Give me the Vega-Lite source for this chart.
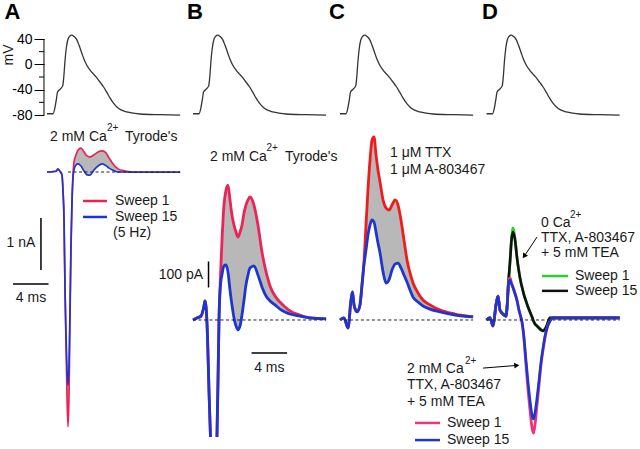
{
"$schema":"https://vega.github.io/schema/vega-lite/v6.json",
"width":640,"height":449,
"autosize":{"type":"fit","contains":"padding"},
"padding":0,
"background":"white",
"config":{"view":{"stroke":null},"text":{"font":"Liberation Sans","fontSize":14,"color":"#1a1a1a"}},
"datasets":{
"one":[{"k":1}],
"minor":[{"v":-60},{"v":-20},{"v":20}],
"ap":[
{"t":0,"v":-78},{"t":0.68,"v":-78},{"t":0.9,"v":-68},{"t":1.07,"v":-54},{"t":1.18,"v":-44},{"t":1.46,"v":-39.5},{"t":1.77,"v":-34},{"t":1.89,"v":-20},{"t":2.03,"v":6},{"t":2.17,"v":25},{"t":2.33,"v":38},{"t":2.54,"v":44},{"t":2.78,"v":46},{"t":3.04,"v":44},{"t":3.35,"v":39},{"t":3.61,"v":30},{"t":3.91,"v":18},{"t":4.17,"v":8},{"t":4.47,"v":-1},{"t":4.85,"v":-9},{"t":5.22,"v":-15},{"t":5.6,"v":-21},{"t":5.97,"v":-28},{"t":6.34,"v":-35},{"t":6.73,"v":-44},{"t":7.1,"v":-53},{"t":7.47,"v":-61},{"t":7.85,"v":-67},{"t":8.34,"v":-72},{"t":8.98,"v":-75},{"t":9.69,"v":-77},{"t":10.48,"v":-78.4},{"t":12.73,"v":-79.5},{"t":15,"v":-80.3}
],
"curA":[
{"t":0,"s1":0,"s15":0},{"t":0.56,"s1":5,"s15":5},{"t":1.01,"s1":15,"s15":15},{"t":1.24,"s1":55,"s15":55},{"t":1.46,"s1":15,"s15":15},{"t":1.69,"s1":-60,"s15":-60},{"t":1.8,"s1":-350,"s15":-350},{"t":1.92,"s1":-920,"s15":-920},{"t":2.03,"s1":-2270,"s15":-2270},{"t":2.14,"s1":-3230,"s15":-3130},{"t":2.25,"s1":-4290,"s15":-3810},{"t":2.37,"s1":-4900,"s15":-4100},{"t":2.48,"s1":-4290,"s15":-3710},{"t":2.59,"s1":-2850,"s15":-2650},{"t":2.7,"s1":-1500,"s15":-1400},{"t":2.82,"s1":-540,"s15":-540},{"t":2.93,"s1":-60,"s15":-110},{"t":3.04,"s1":190,"s15":40},{"t":3.27,"s1":330,"s15":135},{"t":3.49,"s1":420,"s15":155},{"t":3.83,"s1":460,"s15":115},{"t":4.17,"s1":385,"s15":20},{"t":4.51,"s1":310,"s15":-55},{"t":4.85,"s1":290,"s15":-60},{"t":5.3,"s1":330,"s15":40},{"t":5.75,"s1":385,"s15":115},{"t":6.2,"s1":405,"s15":155},{"t":6.54,"s1":385,"s15":135},{"t":6.99,"s1":270,"s15":75},{"t":7.44,"s1":155,"s15":35},{"t":8.0,"s1":60,"s15":0},{"t":8.8,"s1":20,"s15":0},{"t":9.9,"s1":0,"s15":-5},{"t":12,"s1":0,"s15":-5},{"t":15,"s1":0,"s15":-5}
],
"curB":[
{"t":0,"s1":0,"s15":0,"seg":1},{"t":0.45,"s1":8,"s15":8,"seg":1},{"t":0.9,"s1":15,"s15":15,"seg":1},{"t":1.24,"s1":54,"s15":54,"seg":1},{"t":1.35,"s1":73,"s15":73,"seg":1},{"t":1.46,"s1":54,"s15":54,"seg":1},{"t":1.63,"s1":-58,"s15":-58,"seg":1},{"t":1.8,"s1":-270,"s15":-270,"seg":1},{"t":1.97,"s1":-450,"s15":-450,"seg":1},
{"t":2.7,"s1":-450,"s15":-450,"seg":2},{"t":2.82,"s1":-230,"s15":-230,"seg":2},{"t":2.93,"s1":0,"s15":0,"seg":2},{"t":3.1,"s1":173,"s15":135,"seg":2},{"t":3.27,"s1":308,"s15":175,"seg":2},{"t":3.49,"s1":442,"s15":208,"seg":2},{"t":3.72,"s1":500,"s15":212,"seg":2},{"t":3.94,"s1":519,"s15":185,"seg":2},{"t":4.17,"s1":462,"s15":115,"seg":2},{"t":4.39,"s1":404,"s15":58,"seg":2},{"t":4.62,"s1":365,"s15":8,"seg":2},{"t":4.85,"s1":338,"s15":-23,"seg":2},{"t":5.07,"s1":319,"s15":-38,"seg":2},{"t":5.3,"s1":338,"s15":-23,"seg":2},{"t":5.52,"s1":365,"s15":19,"seg":2},{"t":5.75,"s1":412,"s15":77,"seg":2},{"t":5.97,"s1":442,"s15":135,"seg":2},{"t":6.2,"s1":462,"s15":173,"seg":2},{"t":6.42,"s1":473,"s15":200,"seg":2},{"t":6.87,"s1":442,"s15":208,"seg":2},{"t":7.32,"s1":365,"s15":173,"seg":2},{"t":7.77,"s1":262,"s15":127,"seg":2},{"t":8.23,"s1":185,"s15":92,"seg":2},{"t":8.68,"s1":131,"s15":73,"seg":2},{"t":9.24,"s1":92,"s15":58,"seg":2},{"t":9.8,"s1":69,"s15":42,"seg":2},{"t":10.37,"s1":50,"s15":31,"seg":2},{"t":10.93,"s1":35,"s15":23,"seg":2},{"t":12.06,"s1":19,"s15":15,"seg":2},{"t":13.18,"s1":8,"s15":8,"seg":2},{"t":15,"s1":4,"s15":4,"seg":2}
],
"curC":[
{"t":0,"s1":0,"s15":0},{"t":0.45,"s1":8,"s15":8},{"t":0.9,"s1":-31,"s15":-31},{"t":1.24,"s1":77,"s15":77},{"t":1.41,"s1":108,"s15":108},{"t":1.58,"s1":58,"s15":58},{"t":1.92,"s1":31,"s15":31},{"t":2.25,"s1":58,"s15":58},{"t":2.48,"s1":135,"s15":135},{"t":2.7,"s1":223,"s15":212},{"t":2.93,"s1":365,"s15":269},{"t":3.15,"s1":500,"s15":327},{"t":3.38,"s1":615,"s15":365},{"t":3.61,"s1":692,"s15":385},{"t":3.83,"s1":704,"s15":377},{"t":4.06,"s1":635,"s15":338},{"t":4.28,"s1":577,"s15":296},{"t":4.51,"s1":531,"s15":258},{"t":4.85,"s1":462,"s15":185},{"t":5.18,"s1":431,"s15":142},{"t":5.52,"s1":423,"s15":154},{"t":5.86,"s1":442,"s15":192},{"t":6.2,"s1":462,"s15":215},{"t":6.54,"s1":442,"s15":219},{"t":6.87,"s1":385,"s15":200},{"t":7.21,"s1":308,"s15":173},{"t":7.55,"s1":231,"s15":146},{"t":7.89,"s1":181,"s15":115},{"t":8.23,"s1":142,"s15":88},{"t":8.79,"s1":104,"s15":69},{"t":9.35,"s1":77,"s15":54},{"t":10.14,"s1":58,"s15":42},{"t":11.27,"s1":38,"s15":31},{"t":12.96,"s1":23,"s15":19},{"t":15,"s1":12,"s15":12}
],
"curD":[
{"t":0,"g":0,"k":0,"p":0,"b":0},{"t":0.39,"g":8,"k":8,"p":8,"b":8},{"t":0.73,"g":-23,"k":-23,"p":-23,"b":-23},{"t":1.07,"g":58,"k":58,"p":58,"b":58},{"t":1.3,"g":92,"k":92,"p":92,"b":92},{"t":1.52,"g":38,"k":38,"p":38,"b":38},{"t":1.86,"g":23,"k":23,"p":23,"b":23},{"t":2.2,"g":15,"k":15,"p":15,"b":15},{"t":2.37,"g":77,"k":77,"p":77,"b":77},{"t":2.48,"g":146,"k":146,"p":146,"b":146},{"t":2.65,"g":225,"k":223,"p":162,"b":154},{"t":2.82,"g":310,"k":308,"p":142,"b":138},{"t":2.99,"g":354,"k":338,"p":127,"b":123},{"t":3.21,"g":315,"k":308,"p":104,"b":100},{"t":3.44,"g":240,"k":238,"p":77,"b":73},{"t":3.66,"g":187,"k":185,"p":38,"b":38},{"t":3.89,"g":142,"k":142,"p":8,"b":8},{"t":4.0,"g":127,"k":127,"p":-8,"b":-8},{"t":4.23,"g":96,"k":96,"p":-77,"b":-69},{"t":4.45,"g":73,"k":73,"p":-173,"b":-154},{"t":4.68,"g":50,"k":50,"p":-269,"b":-238},{"t":4.9,"g":31,"k":31,"p":-346,"b":-308},{"t":5.13,"g":12,"k":12,"p":-415,"b":-365},{"t":5.3,"g":-4,"k":-4,"p":-435,"b":-381},{"t":5.46,"g":-15,"k":-15,"p":-404,"b":-358},{"t":5.69,"g":-23,"k":-23,"p":-327,"b":-300},{"t":5.92,"g":-31,"k":-31,"p":-250,"b":-231},{"t":6.14,"g":-38,"k":-38,"p":-173,"b":-162},{"t":6.37,"g":-42,"k":-42,"p":-115,"b":-108},{"t":6.59,"g":-35,"k":-35,"p":-69,"b":-62},{"t":6.82,"g":-19,"k":-19,"p":-31,"b":-31},{"t":7.15,"g":8,"k":8,"p":-4,"b":-4},{"t":7.49,"g":8,"k":8,"p":8,"b":8},{"t":8.28,"g":8,"k":8,"p":8,"b":8},{"t":9.97,"g":8,"k":8,"p":8,"b":8},{"t":11.66,"g":8,"k":8,"p":8,"b":8},{"t":13.35,"g":8,"k":8,"p":8,"b":8},{"t":15,"g":8,"k":8,"p":8,"b":8}
]
},
"resolve":{"scale":{"x":"independent","y":"independent"}},
"layer":[
{
"layer":[
{"data":{"name":"ap"},"mark":{"type":"line","color":"#333","strokeWidth":1.3,"interpolate":"monotone"},"encoding":{
"x":{"field":"t","type":"quantitative","scale":{"domain":[-5.296,66.817],"nice":false,"zero":false},"axis":null},
"y":{"field":"v","type":"quantitative","scale":{"domain":[-607.37,101.58],"nice":false,"zero":false},
"axis":{"orient":"left","offset":-44,"values":[-80,-40,0,40],"labelExpr":"'' + datum.value","tickSize":10,"tickColor":"#000","tickWidth":1,"domain":false,"grid":false,"title":null,"labelFont":"Liberation Sans","labelFontSize":14,"labelColor":"#000","labelPadding":2,"labelOverlap":false}}}},
{"data":{"name":"minor"},"mark":{"type":"rule","color":"#000","strokeWidth":1},"encoding":{"x":{"datum":-0.9,"axis":null},"x2":{"datum":-0.34},"y":{"field":"v","type":"quantitative"}}},
{"data":{"name":"one"},"mark":{"type":"rule","color":"#000","strokeWidth":1},"encoding":{"x":{"datum":-0.34,"axis":null},"y":{"datum":-80},"y2":{"datum":40}}},
{"data":{"name":"one"},"mark":{"type":"text","text":"mV","angle":270,"align":"center","baseline":"middle"},"encoding":{"x":{"datum":-4.28,"axis":null},"y":{"datum":14.7}}},
{"data":{"name":"one"},"mark":{"type":"text","text":"A","fontSize":22,"fontWeight":"bold","align":"left","baseline":"alphabetic","color":"#000"},"encoding":{"x":{"datum":-4.8,"axis":null},"y":{"datum":72}}}
]
},
{
"layer":[
{"data":{"name":"ap"},"mark":{"type":"line","color":"#333","strokeWidth":1.3,"interpolate":"monotone"},"encoding":{
"x":{"field":"t","type":"quantitative","scale":{"domain":[-21.746,50.367],"nice":false,"zero":false},"axis":null},
"y":{"field":"v","type":"quantitative","scale":{"domain":[-607.37,101.58],"nice":false,"zero":false},"axis":null}}},
{"data":{"name":"one"},"mark":{"type":"text","text":"B","fontSize":22,"fontWeight":"bold","align":"left","baseline":"alphabetic","color":"#000"},"encoding":{"x":{"datum":-0.68,"axis":null},"y":{"datum":72,"axis":null}}}
]
},
{
"layer":[
{"data":{"name":"ap"},"mark":{"type":"line","color":"#333","strokeWidth":1.3,"interpolate":"monotone"},"encoding":{
"x":{"field":"t","type":"quantitative","scale":{"domain":[-38.31,33.803],"nice":false,"zero":false},"axis":null},
"y":{"field":"v","type":"quantitative","scale":{"domain":[-607.37,101.58],"nice":false,"zero":false},"axis":null}}},
{"data":{"name":"one"},"mark":{"type":"text","text":"C","fontSize":22,"fontWeight":"bold","align":"left","baseline":"alphabetic","color":"#000"},"encoding":{"x":{"datum":-1.24,"axis":null},"y":{"datum":72,"axis":null}}}
]
},
{
"layer":[
{"data":{"name":"ap"},"mark":{"type":"line","color":"#333","strokeWidth":1.3,"interpolate":"monotone"},"encoding":{
"x":{"field":"t","type":"quantitative","scale":{"domain":[-54.817,17.296],"nice":false,"zero":false},"axis":null},
"y":{"field":"v","type":"quantitative","scale":{"domain":[-607.37,101.58],"nice":false,"zero":false},"axis":null}}},
{"data":{"name":"one"},"mark":{"type":"text","text":"D","fontSize":22,"fontWeight":"bold","align":"left","baseline":"alphabetic","color":"#000"},"encoding":{"x":{"datum":-0.51,"axis":null},"y":{"datum":72,"axis":null}}}
]
},
{
"layer":[
{"data":{"name":"curA"},"mark":{"type":"area","color":"#b8b8b8","interpolate":"monotone"},"encoding":{
"x":{"field":"t","type":"quantitative","scale":{"domain":[-5.296,66.817],"nice":false,"zero":false},"axis":null},
"y":{"field":"s15","type":"quantitative","scale":{"domain":[-5326.9,3307.7],"nice":false,"zero":false},"axis":null},
"y2":{"field":"s1"}}},
{"data":{"name":"curA"},"mark":{"type":"line","color":"#ee2250","strokeWidth":1.7,"interpolate":"monotone"},"encoding":{"x":{"field":"t","type":"quantitative","axis":null},"y":{"field":"s1","type":"quantitative","axis":null}}},
{"data":{"name":"curA"},"mark":{"type":"line","color":"#1d36cf","strokeWidth":1.7,"interpolate":"monotone"},"encoding":{"x":{"field":"t","type":"quantitative","axis":null},"y":{"field":"s15","type":"quantitative","axis":null}}},
{"data":{"name":"one"},"mark":{"type":"rule","color":"#222","strokeDash":[3,2.5],"strokeWidth":1},"encoding":{"x":{"datum":2.37,"axis":null},"x2":{"datum":15},"y":{"datum":0,"axis":null}}},
{"data":{"name":"one"},"mark":{"type":"text","text":"2 mM Ca","align":"left","baseline":"middle"},"encoding":{"x":{"datum":0.34,"axis":null},"y":{"datum":673,"axis":null}}},
{"data":{"name":"one"},"mark":{"type":"text","text":"2+","fontSize":10,"align":"left","baseline":"middle"},"encoding":{"x":{"datum":6.76,"axis":null},"y":{"datum":846,"axis":null}}},
{"data":{"name":"one"},"mark":{"type":"text","text":"Tyrode's","align":"left","baseline":"middle"},"encoding":{"x":{"datum":8.79,"axis":null},"y":{"datum":673,"axis":null}}},
{"data":{"name":"one"},"mark":{"type":"rule","color":"#000","strokeWidth":1.5},"encoding":{"x":{"datum":-0.68,"axis":null},"y":{"datum":-885,"axis":null},"y2":{"datum":-1885}}},
{"data":{"name":"one"},"mark":{"type":"text","text":"1 nA","align":"center","baseline":"middle"},"encoding":{"x":{"datum":-2.93,"axis":null},"y":{"datum":-1365,"axis":null}}},
{"data":{"name":"one"},"mark":{"type":"rule","color":"#000","strokeWidth":1.5},"encoding":{"x":{"datum":-3.83,"axis":null},"x2":{"datum":0.17},"y":{"datum":-2154,"axis":null}}},
{"data":{"name":"one"},"mark":{"type":"text","text":"4 ms","align":"center","baseline":"middle"},"encoding":{"x":{"datum":-1.8,"axis":null},"y":{"datum":-2423,"axis":null}}},
{"data":{"name":"one"},"mark":{"type":"rule","color":"#ee2250","strokeWidth":2.5},"encoding":{"x":{"datum":4.06,"axis":null},"x2":{"datum":6.76},"y":{"datum":-558,"axis":null}}},
{"data":{"name":"one"},"mark":{"type":"rule","color":"#1d36cf","strokeWidth":2.5},"encoding":{"x":{"datum":4.06,"axis":null},"x2":{"datum":6.76},"y":{"datum":-865,"axis":null}}},
{"data":{"name":"one"},"mark":{"type":"text","text":"Sweep 1","align":"left","baseline":"middle"},"encoding":{"x":{"datum":7.66,"axis":null},"y":{"datum":-558,"axis":null}}},
{"data":{"name":"one"},"mark":{"type":"text","text":"Sweep 15","align":"left","baseline":"middle"},"encoding":{"x":{"datum":7.66,"axis":null},"y":{"datum":-865,"axis":null}}},
{"data":{"name":"one"},"mark":{"type":"text","text":"(5 Hz)","align":"left","baseline":"middle"},"encoding":{"x":{"datum":7.44,"axis":null},"y":{"datum":-1173,"axis":null}}}
]
},
{
"layer":[
{"data":{"name":"curB"},"mark":{"type":"area","color":"#b8b8b8","interpolate":"monotone"},"encoding":{
"x":{"field":"t","type":"quantitative","scale":{"domain":[-21.746,50.367],"nice":false,"zero":false},"axis":null},
"y":{"field":"s15","type":"quantitative","scale":{"domain":[-496.2,1230.8],"nice":false,"zero":false},"axis":null},
"y2":{"field":"s1"},"detail":{"field":"seg"}}},
{"data":{"name":"curB"},"mark":{"type":"line","color":"#ea2458","strokeWidth":2.8,"interpolate":"monotone"},"encoding":{"x":{"field":"t","type":"quantitative","axis":null},"y":{"field":"s1","type":"quantitative","axis":null},"detail":{"field":"seg"}}},
{"data":{"name":"curB"},"mark":{"type":"line","color":"#1d36cf","strokeWidth":2.8,"interpolate":"monotone"},"encoding":{"x":{"field":"t","type":"quantitative","axis":null},"y":{"field":"s15","type":"quantitative","axis":null},"detail":{"field":"seg"}}},
{"data":{"name":"one"},"mark":{"type":"rule","color":"#222","strokeDash":[3,2.5],"strokeWidth":1},"encoding":{"x":{"datum":0,"axis":null},"x2":{"datum":15},"y":{"datum":0,"axis":null}}},
{"data":{"name":"one"},"mark":{"type":"text","text":"2 mM Ca","align":"left","baseline":"middle"},"encoding":{"x":{"datum":1.92,"axis":null},"y":{"datum":627,"axis":null}}},
{"data":{"name":"one"},"mark":{"type":"text","text":"2+","fontSize":10,"align":"left","baseline":"middle"},"encoding":{"x":{"datum":8.28,"axis":null},"y":{"datum":662,"axis":null}}},
{"data":{"name":"one"},"mark":{"type":"text","text":"Tyrode's","align":"left","baseline":"middle"},"encoding":{"x":{"datum":10.37,"axis":null},"y":{"datum":627,"axis":null}}},
{"data":{"name":"one"},"mark":{"type":"rule","color":"#000","strokeWidth":1.5},"encoding":{"x":{"datum":1.75,"axis":null},"y":{"datum":225,"axis":null},"y2":{"datum":125}}},
{"data":{"name":"one"},"mark":{"type":"text","text":"100 pA","align":"right","baseline":"middle"},"encoding":{"x":{"datum":1.13,"axis":null},"y":{"datum":173,"axis":null}}},
{"data":{"name":"one"},"mark":{"type":"rule","color":"#000","strokeWidth":1.5},"encoding":{"x":{"datum":6.6,"axis":null},"x2":{"datum":10.6},"y":{"datum":-127,"axis":null}}},
{"data":{"name":"one"},"mark":{"type":"text","text":"4 ms","align":"center","baseline":"middle"},"encoding":{"x":{"datum":8.6,"axis":null},"y":{"datum":-185,"axis":null}}}
]
},
{
"layer":[
{"data":{"name":"curC"},"mark":{"type":"area","color":"#b8b8b8","interpolate":"monotone"},"encoding":{
"x":{"field":"t","type":"quantitative","scale":{"domain":[-38.31,33.803],"nice":false,"zero":false},"axis":null},
"y":{"field":"s15","type":"quantitative","scale":{"domain":[-496.2,1230.8],"nice":false,"zero":false},"axis":null},
"y2":{"field":"s1"}}},
{"data":{"name":"curC"},"mark":{"type":"line","color":"#f01c1c","strokeWidth":2.8,"interpolate":"monotone"},"encoding":{"x":{"field":"t","type":"quantitative","axis":null},"y":{"field":"s1","type":"quantitative","axis":null}}},
{"data":{"name":"curC"},"mark":{"type":"line","color":"#1d36cf","strokeWidth":2.8,"interpolate":"monotone"},"encoding":{"x":{"field":"t","type":"quantitative","axis":null},"y":{"field":"s15","type":"quantitative","axis":null}}},
{"data":{"name":"one"},"mark":{"type":"rule","color":"#222","strokeDash":[3,2.5],"strokeWidth":1},"encoding":{"x":{"datum":0.5,"axis":null},"x2":{"datum":15},"y":{"datum":0,"axis":null}}},
{"data":{"name":"one"},"mark":{"type":"text","text":"1 μM TTX","align":"left","baseline":"middle"},"encoding":{"x":{"datum":5.63,"axis":null},"y":{"datum":642,"axis":null}}},
{"data":{"name":"one"},"mark":{"type":"text","text":"1 μM A-803467","align":"left","baseline":"middle"},"encoding":{"x":{"datum":5.63,"axis":null},"y":{"datum":577,"axis":null}}}
]
},
{
"layer":[
{"data":{"name":"curD"},"mark":{"type":"line","color":"#2ecc2e","strokeWidth":2.8,"interpolate":"monotone"},"encoding":{
"x":{"field":"t","type":"quantitative","scale":{"domain":[-54.817,17.296],"nice":false,"zero":false},"axis":null},
"y":{"field":"g","type":"quantitative","scale":{"domain":[-496.2,1230.8],"nice":false,"zero":false},"axis":null}}},
{"data":{"name":"curD"},"mark":{"type":"line","color":"#111111","strokeWidth":2.6,"interpolate":"monotone"},"encoding":{"x":{"field":"t","type":"quantitative","axis":null},"y":{"field":"k","type":"quantitative","axis":null}}},
{"data":{"name":"curD"},"mark":{"type":"line","color":"#e8357e","strokeWidth":2.8,"interpolate":"monotone"},"encoding":{"x":{"field":"t","type":"quantitative","axis":null},"y":{"field":"p","type":"quantitative","axis":null}}},
{"data":{"name":"curD"},"mark":{"type":"line","color":"#1d36cf","strokeWidth":2.6,"interpolate":"monotone"},"encoding":{"x":{"field":"t","type":"quantitative","axis":null},"y":{"field":"b","type":"quantitative","axis":null}}},
{"data":{"name":"one"},"mark":{"type":"rule","color":"#222","strokeDash":[3,2.5],"strokeWidth":1},"encoding":{"x":{"datum":0,"axis":null},"x2":{"datum":15},"y":{"datum":0,"axis":null}}},
{"data":{"name":"one"},"mark":{"type":"text","text":"0 Ca","align":"left","baseline":"middle"},"encoding":{"x":{"datum":6.14,"axis":null},"y":{"datum":373,"axis":null}}},
{"data":{"name":"one"},"mark":{"type":"text","text":"2+","fontSize":10,"align":"left","baseline":"middle"},"encoding":{"x":{"datum":9.41,"axis":null},"y":{"datum":404,"axis":null}}},
{"data":{"name":"one"},"mark":{"type":"text","text":"TTX, A-803467","align":"left","baseline":"middle"},"encoding":{"x":{"datum":6.14,"axis":null},"y":{"datum":315,"axis":null}}},
{"data":{"name":"one"},"mark":{"type":"text","text":"+ 5 mM TEA","align":"left","baseline":"middle"},"encoding":{"x":{"datum":6.14,"axis":null},"y":{"datum":258,"axis":null}}},
{"data":{"name":"one"},"mark":{"type":"rule","color":"#2ecc2e","strokeWidth":2.5},"encoding":{"x":{"datum":6.25,"axis":null},"x2":{"datum":9.18},"y":{"datum":169,"axis":null}}},
{"data":{"name":"one"},"mark":{"type":"rule","color":"#111111","strokeWidth":2.5},"encoding":{"x":{"datum":6.25,"axis":null},"x2":{"datum":9.18},"y":{"datum":112,"axis":null}}},
{"data":{"name":"one"},"mark":{"type":"text","text":"Sweep 1","align":"left","baseline":"middle"},"encoding":{"x":{"datum":9.97,"axis":null},"y":{"datum":169,"axis":null}}},
{"data":{"name":"one"},"mark":{"type":"text","text":"Sweep 15","align":"left","baseline":"middle"},"encoding":{"x":{"datum":9.97,"axis":null},"y":{"datum":112,"axis":null}}},
{"data":{"name":"one"},"mark":{"type":"rule","color":"#000","strokeWidth":1},"encoding":{"x":{"datum":5.69,"axis":null},"x2":{"datum":4.3},"y":{"datum":319,"axis":null},"y2":{"datum":248}}},
{"data":{"name":"one"},"mark":{"type":"point","shape":"triangle","filled":true,"color":"#000","opacity":1,"size":35,"angle":214},"encoding":{"x":{"datum":4.3,"axis":null},"y":{"datum":248,"axis":null}}},
{"data":{"name":"one"},"mark":{"type":"text","text":"2 mM Ca","align":"left","baseline":"middle"},"encoding":{"x":{"datum":-8.96,"axis":null},"y":{"datum":-188,"axis":null}}},
{"data":{"name":"one"},"mark":{"type":"text","text":"2+","fontSize":10,"align":"left","baseline":"middle"},"encoding":{"x":{"datum":-2.42,"axis":null},"y":{"datum":-158,"axis":null}}},
{"data":{"name":"one"},"mark":{"type":"text","text":"TTX, A-803467","align":"left","baseline":"middle"},"encoding":{"x":{"datum":-8.96,"axis":null},"y":{"datum":-250,"axis":null}}},
{"data":{"name":"one"},"mark":{"type":"text","text":"+ 5 mM TEA","align":"left","baseline":"middle"},"encoding":{"x":{"datum":-8.96,"axis":null},"y":{"datum":-315,"axis":null}}},
{"data":{"name":"one"},"mark":{"type":"rule","color":"#000","strokeWidth":1},"encoding":{"x":{"datum":-0.39,"axis":null},"x2":{"datum":3.32},"y":{"datum":-185,"axis":null},"y2":{"datum":-175}}},
{"data":{"name":"one"},"mark":{"type":"point","shape":"triangle","filled":true,"color":"#000","opacity":1,"size":35,"angle":85},"encoding":{"x":{"datum":3.32,"axis":null},"y":{"datum":-175,"axis":null}}},
{"data":{"name":"one"},"mark":{"type":"rule","color":"#e8357e","strokeWidth":2.5},"encoding":{"x":{"datum":-8.06,"axis":null},"x2":{"datum":-5.24},"y":{"datum":-396,"axis":null}}},
{"data":{"name":"one"},"mark":{"type":"rule","color":"#1d36cf","strokeWidth":2.5},"encoding":{"x":{"datum":-8.06,"axis":null},"x2":{"datum":-5.24},"y":{"datum":-462,"axis":null}}},
{"data":{"name":"one"},"mark":{"type":"text","text":"Sweep 1","align":"left","baseline":"middle"},"encoding":{"x":{"datum":-4.45,"axis":null},"y":{"datum":-396,"axis":null}}},
{"data":{"name":"one"},"mark":{"type":"text","text":"Sweep 15","align":"left","baseline":"middle"},"encoding":{"x":{"datum":-4.45,"axis":null},"y":{"datum":-462,"axis":null}}}
]
}
]
}
